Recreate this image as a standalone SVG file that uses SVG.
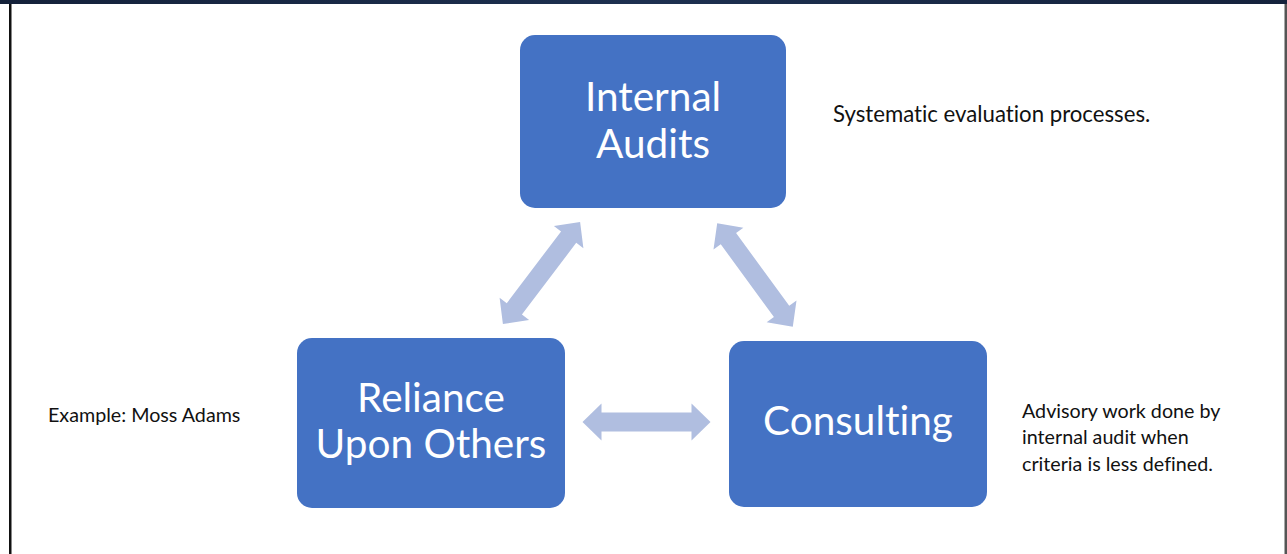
<svg xmlns="http://www.w3.org/2000/svg" xmlns:xlink="http://www.w3.org/1999/xlink" width="1287" height="554" viewBox="0 0 1287 554">
<style>
text{font-variant-ligatures:none;font-feature-settings:"liga" 0}
.box{fill:#4472C4}
.bt{font-family:Lato,"Open Sans",sans-serif;font-size:40.5px;fill:#fff;text-anchor:middle}
.side{font-family:Lato,"Open Sans",sans-serif;font-size:19.7px;fill:#111}
.arr{fill:#B0BEE0}
</style>
<defs>
<linearGradient id="bar" x1="0" y1="0" x2="1" y2="0">
<stop offset="0" stop-color="#14213a"/><stop offset="0.5" stop-color="#1d3050"/><stop offset="1" stop-color="#15223c"/>
</linearGradient>
<path id="dbl" d="M-64,0 L-45,-18.5 L-45,-9.5 L45,-9.5 L45,-18.5 L64,0 L45,18.5 L45,9.5 L-45,9.5 L-45,18.5 Z"/>
</defs>
<rect x="0" y="0" width="1287" height="554" fill="#fff"/>
<rect x="0" y="0" width="1287" height="4" fill="url(#bar)"/>
<rect x="9" y="4" width="2.5" height="550" fill="#111"/>
<rect x="1284.5" y="4" width="2.5" height="550" fill="#555"/>

<g id="connectors" class="arr">
<use xlink:href="#dbl" transform="translate(541.5,273) rotate(-52.9)"/>
<use xlink:href="#dbl" transform="translate(755,275) rotate(53.8)"/>
<use xlink:href="#dbl" transform="translate(646.5,422)"/>
</g>

<g id="internal-audits">
<rect class="box" x="520" y="35" width="266" height="173" rx="15"/>
<text class="bt" x="653" y="111">Internal</text>
<text class="bt" x="653" y="158">Audits</text>
</g>
<g id="reliance">
<rect class="box" x="297" y="338" width="268" height="170" rx="15"/>
<text class="bt" x="431" y="412">Reliance</text>
<text class="bt" x="431" y="458">Upon Others</text>
</g>
<g id="consulting">
<rect class="box" x="729" y="341" width="258" height="166" rx="15"/>
<text class="bt" x="858" y="435">Consulting</text>
</g>
<g id="notes">
<text class="side" x="833" y="122" style="font-size:22.2px">Systematic evaluation processes.</text>
<text class="side" x="48" y="422">Example: Moss Adams</text>
<text class="side" x="1022" y="418">Advisory work done by</text>
<text class="side" x="1022" y="444">internal audit when</text>
<text class="side" x="1022" y="471">criteria is less defined.</text>
</g>
</svg>
